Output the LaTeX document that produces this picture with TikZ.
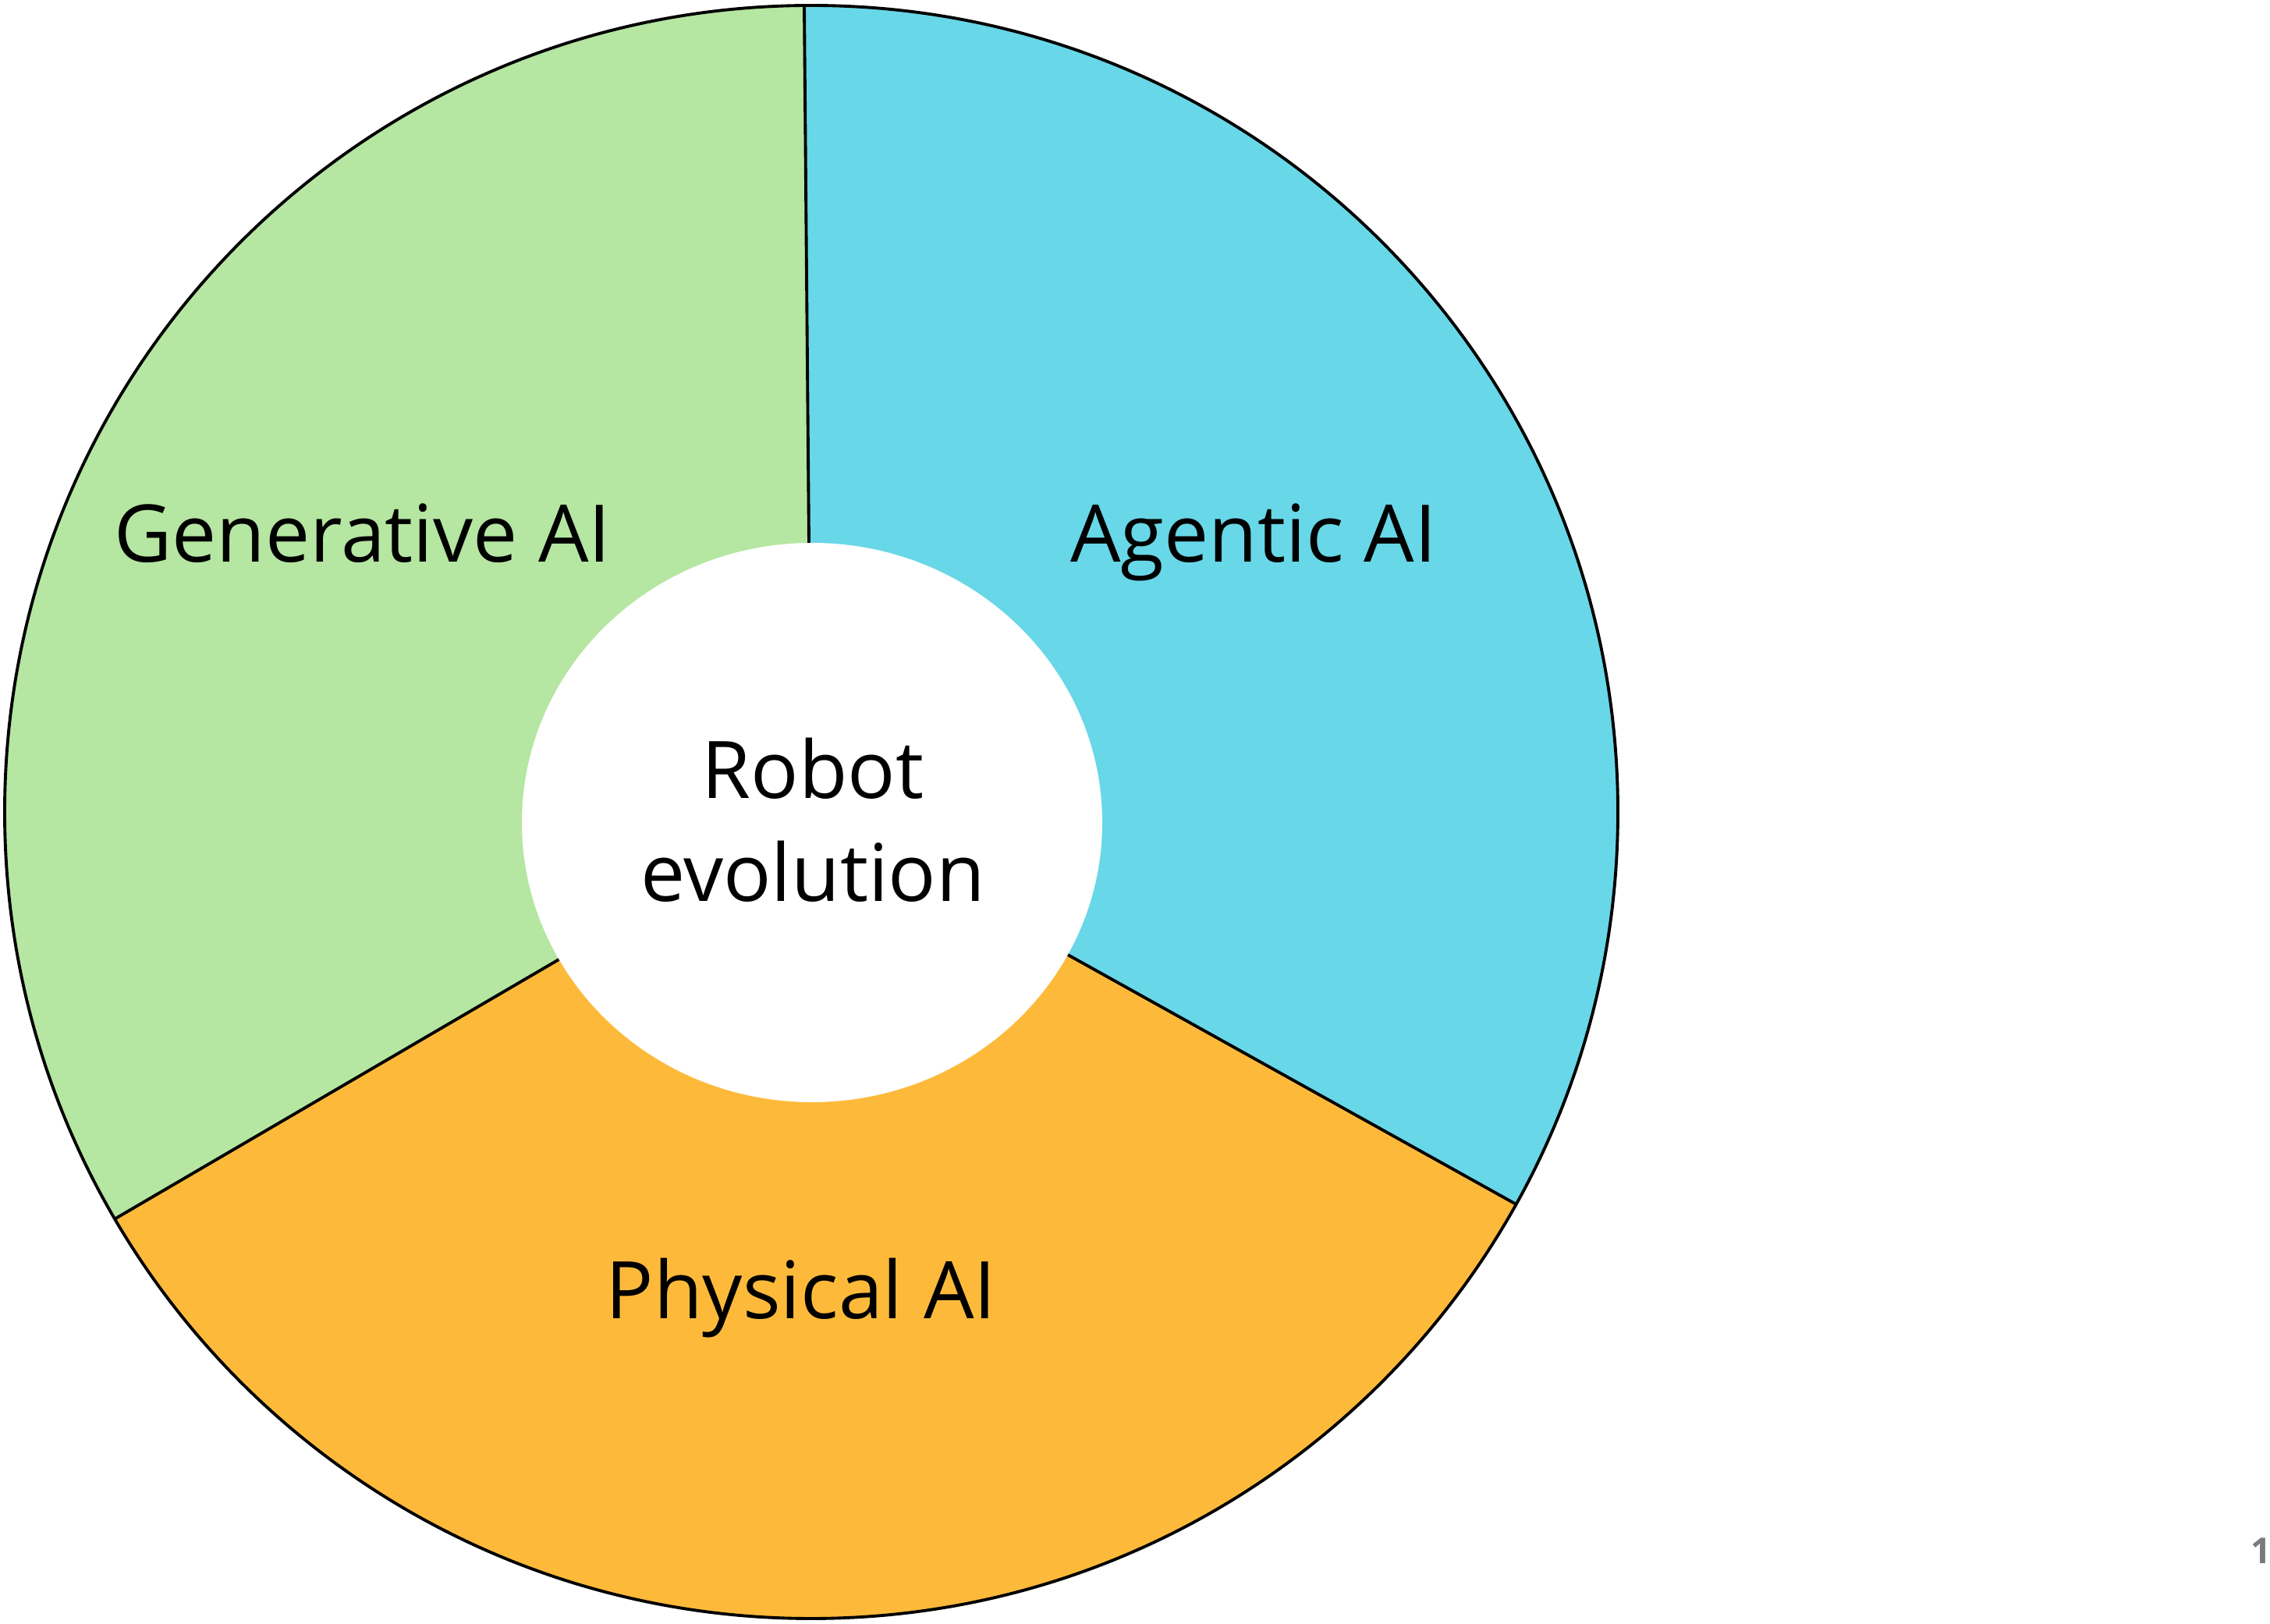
\documentclass[tikz,border=0pt]{standalone}
\usepackage{fontspec}
\setmainfont{Open Sans}
\usetikzlibrary{calc}

\definecolor{genGreen}{HTML}{B5E6A2}
\definecolor{agentCyan}{HTML}{68D7E7}
\definecolor{physOrange}{HTML}{FDBA3A}
\definecolor{pageGray}{HTML}{7A7A7A}

\begin{document}
\begin{tikzpicture}[
  label/.style={font=\fontsize{29}{37.4}\selectfont, anchor=base, inner sep=0pt},
  divider/.style={draw=black, line width=1.1pt},
  rim/.style={draw=black, line width=1.1pt},
]
\useasboundingbox (0,0) rectangle (29.1,20.82);

% Centre and radius of the ring
\coordinate (O) at (10.40, 10.41);
\def\R{10.34}

% Sectors
\fill[genGreen]   (O) -- ($(O)+(90.5:\R)$)  arc[start angle=90.5,  end angle=210.3, radius=\R] -- cycle;
\fill[physOrange] (O) -- ($(O)+(210.3:\R)$) arc[start angle=210.3, end angle=330.9, radius=\R] -- cycle;
\fill[agentCyan]  (O) -- ($(O)+(-29.1:\R)$) arc[start angle=-29.1, end angle=90.5,  radius=\R] -- cycle;

% Rim points of the dividers
\coordinate (rimT)  at ($(O)+(90.5:\R)$);
\coordinate (rimL)  at ($(O)+(210.3:\R)$);
\coordinate (rimR)  at ($(O)+(-29.1:\R)$);

\draw[divider] (O) -- (rimT);
\draw[divider] (O) -- (rimL);
\draw[divider] (O) -- (rimR);
\draw[rim] (O) circle[radius=\R];

% Hub
\fill[white] (10.41, 10.275) ellipse[x radius=3.72, y radius=3.585];

% Labels
\node[label] (gen)   at (4.65, 13.61)  {Generative AI};
\node[label] (agent) at (16.07, 13.61) {Agentic AI};
\node[label] (phys)  at (10.27, 3.91)  {Physical AI};
\node[label] (robot) at (10.42, 10.58) {Robot};
\node[label] (evo)   at (10.42, 9.26)  {evolution};

% Page number
\node[anchor=base, inner sep=0pt, text=pageGray, font=\fontsize{13}{15}\selectfont\bfseries] (pagenum) at (28.98, 0.77) {1};

\end{tikzpicture}
\end{document}
